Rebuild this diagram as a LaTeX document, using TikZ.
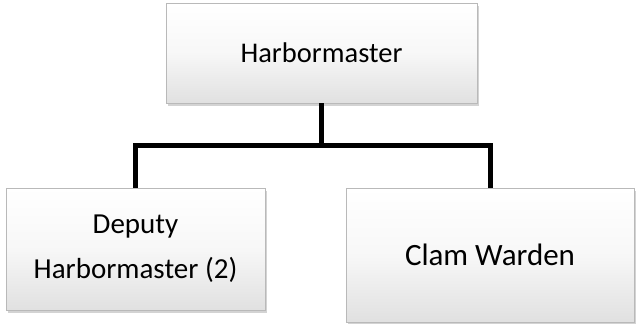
\documentclass[tikz,border=0pt]{standalone}
\usepackage{fontspec}
\setmainfont{Carlito}
\usetikzlibrary{shadows}
\begin{document}
\begin{tikzpicture}[x=1pt,y=1pt,
  orgbox/.style={rectangle, draw=gray!55, line width=0.6pt,
    top color=white, bottom color=gray!24, middle color=gray!6,
    drop shadow={shadow xshift=2pt, shadow yshift=-3pt, opacity=0.35, fill=gray},
    inner sep=0pt, align=center, text=black},
  conn/.style={line width=5pt, black, line join=miter}]
\useasboundingbox (0,0) rectangle (638,324);
\node[orgbox, minimum width=311pt, minimum height=100pt,
  font=\fontsize{28.5}{34}\selectfont] (top) at (321.5,271) {Harbormaster};
\node[orgbox, minimum width=259pt, minimum height=122pt,
  font=\fontsize{29}{45}\selectfont] (left) at (135.5,75) {Deputy\\Harbormaster (2)};
\node[orgbox, minimum width=288pt, minimum height=134pt,
  font=\fontsize{31}{37}\selectfont] (right) at (490,69) {Clam Warden};
\coordinate (bus) at (0,178);
\draw[conn] (top.south) -- (top.south |- bus);
\draw[conn] (left.north) |- (bus -| right.north) -- (right.north);
\end{tikzpicture}
\end{document}
